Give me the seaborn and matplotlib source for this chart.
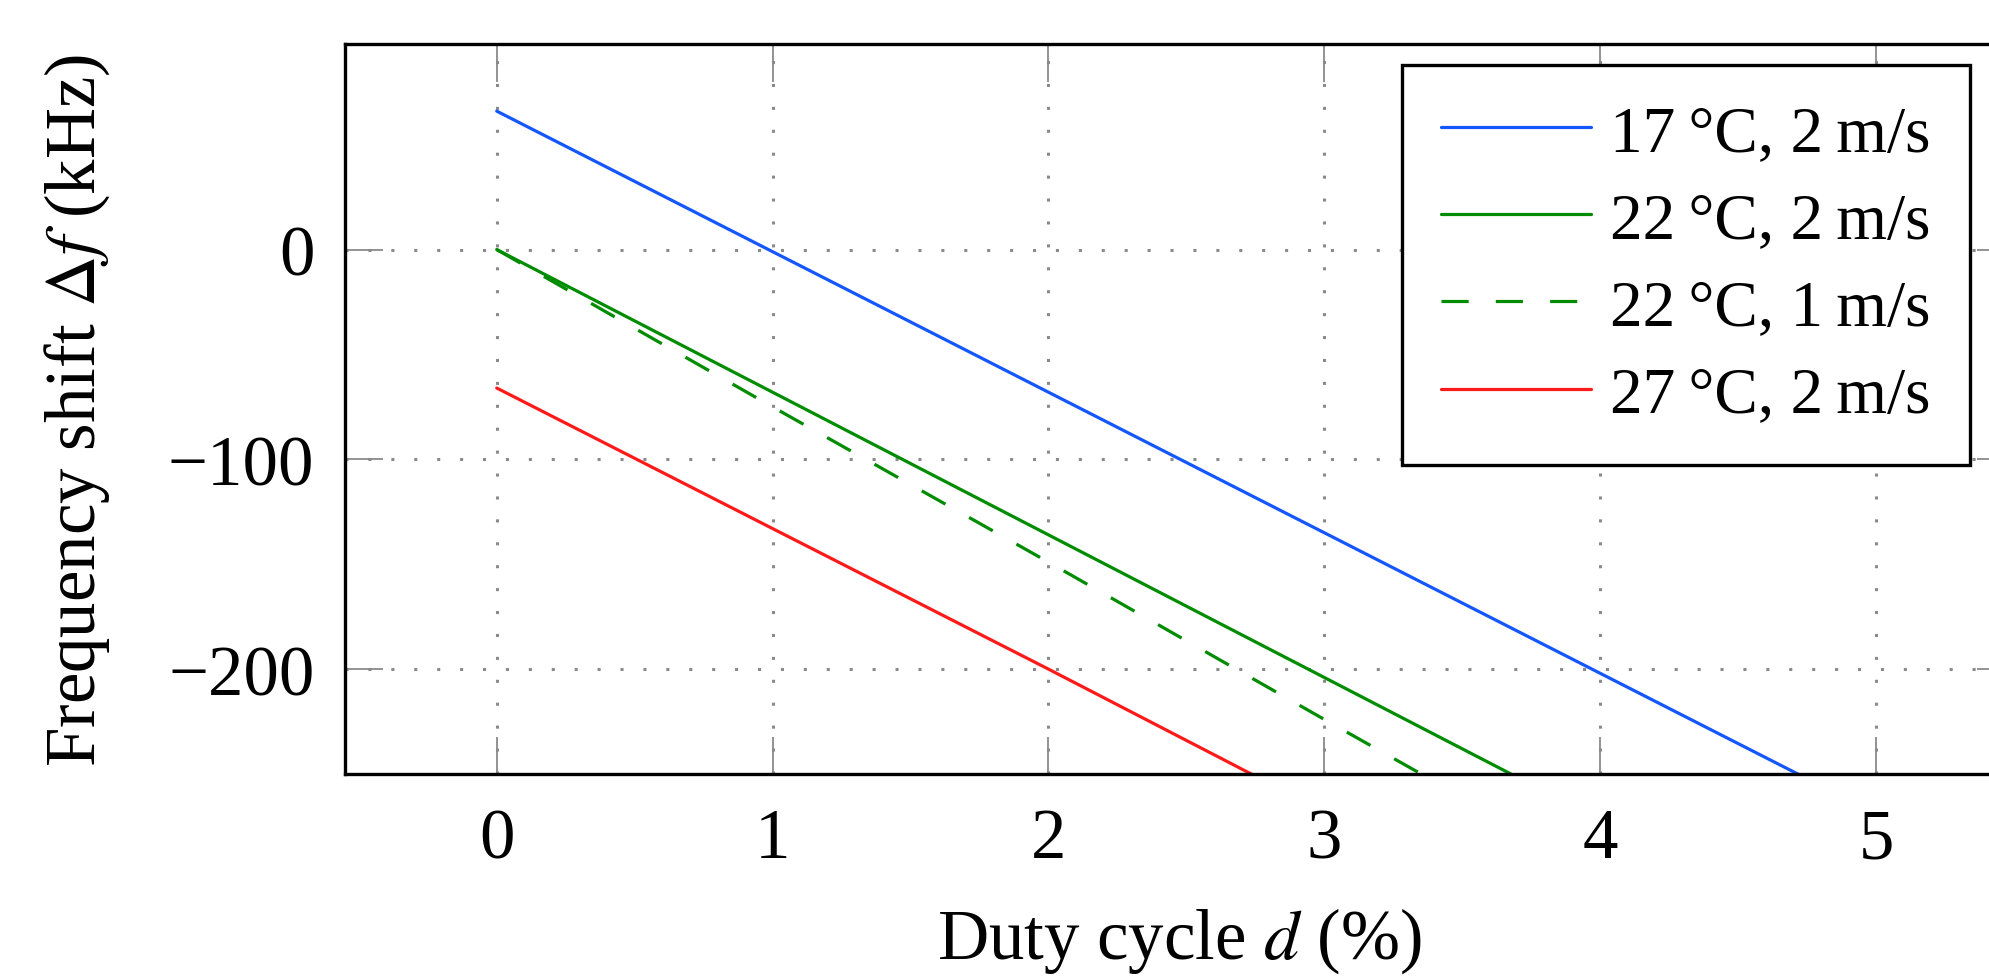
import matplotlib
matplotlib.use("Agg")
import matplotlib.pyplot as plt
import seaborn as sns
import pandas as pd

# ---- data ----
duty = [0, 1, 2, 3, 4, 5]
blue_17C_2ms = [66, -1, -68, -135, -202, -269]
green_22C_2ms = [0, -68, -136, -204, -272, -340]
green_22C_1ms = [0, -75, -149, -224, -298, -373]
red_27C_2ms = [-66, -133, -200, -268, -335, -402]
labels = ["17\u2009°C, 2\u2009m/s", "22\u2009°C, 2\u2009m/s",
          "22\u2009°C, 1\u2009m/s", "27\u2009°C, 2\u2009m/s"]
xticks = [0, 1, 2, 3, 4, 5]
yticks = [0, -100, -200]

sns.set_theme(style="white")
plt.rcParams["font.family"] = ["Liberation Serif", "DejaVu Serif"]
plt.rcParams["mathtext.fontset"] = "stix"
plt.rcParams["text.color"] = "black"
plt.rcParams["axes.labelcolor"] = "black"
plt.rcParams["xtick.color"] = "black"
plt.rcParams["ytick.color"] = "black"

FS = 51
LFS = 47
fig = plt.figure(figsize=(19.89, 9.79), dpi=100)
ax = fig.add_axes([345 / 1989, 1 - 775 / 979, (2014 - 345) / 1989, (775 - 45) / 979])

series = [blue_17C_2ms, green_22C_2ms, green_22C_1ms, red_27C_2ms]
colors = ["#1456ff", "#008c00", "#008c00", "#ff1a1a"]
styles = ["-", "-", (0, (8.5, 8.5)), "-"]
for vals, c, ls, lab in zip(series, colors, styles, labels):
    df = pd.DataFrame({"duty": duty, "shift": vals})
    sns.lineplot(data=df, x="duty", y="shift", ax=ax, color=c, linestyle=ls,
                 linewidth=2.3, label=lab, zorder=3)

ax.set_xlim(-0.55, 5.5)
ax.set_ylim(-250, 98)
ax.set_xticks(xticks)
ax.set_yticks(yticks)
ax.grid(True, color="#8a8a8a", linestyle=(0, (1, 6.5)), linewidth=2.2)
ax.tick_params(axis="both", which="major", direction="in", length=27, width=1.3,
               color="#8a8a8a", labelsize=FS, top=True, right=True,
               bottom=True, left=True, labelcolor="black")
ax.tick_params(axis="x", pad=24)
ax.tick_params(axis="y", pad=22)
for s in ax.spines.values():
    s.set_color("black")
    s.set_linewidth(2.4)
    s.set_zorder(5)

ax.set_xlabel(r"Duty cycle $d$ (%)", fontsize=FS, labelpad=24)
ax.set_ylabel(r"Frequency shift $\Delta f$ (kHz)", fontsize=FS, labelpad=40)

leg = ax.legend(loc="upper right", bbox_to_anchor=(0.9737, 0.971), borderaxespad=0,
                fontsize=LFS, frameon=True, fancybox=False, handlelength=2.3,
                handletextpad=0.3, labelspacing=0.42, borderpad=0.6)
leg.get_frame().set_edgecolor("black")
leg.get_frame().set_linewidth(2.4)
leg.get_frame().set_alpha(1)

fig.savefig("out.png", dpi=100)
